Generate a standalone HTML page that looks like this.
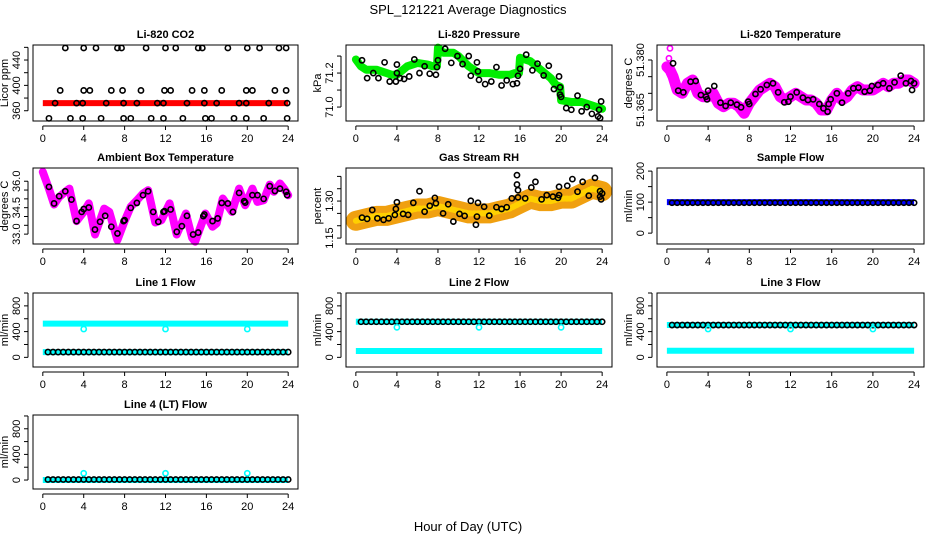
<!DOCTYPE html>
<html><head><meta charset="utf-8"><style>
html,body{margin:0;padding:0;background:#fff}
svg{display:block}
text{font-family:"Liberation Sans",Arial,sans-serif;fill:#000}
</style></head><body>
<svg id="chart" width="936" height="540" viewBox="0 0 936 540" xmlns="http://www.w3.org/2000/svg">
<text x="468" y="14" font-size="13" text-anchor="middle">SPL_121221  Average Diagnostics</text>
<text x="468" y="531" font-size="13" text-anchor="middle">Hour of Day (UTC)</text>
</svg>
<script>
// ---------- data ----------
const xTicks=[0,4,8,12,16,20,24];
const co2RedLevel=[372];
const co2Hours=[2.2,4,5.2,7.3,7.7,10.1,12,13,15.2,15.6,18.1,20,21.2,23.1,23.8, 1.7,4,4.6,6.7,7.8,9.6,11.9,12.5,14.6,15.8,17.5,19.9,20.5,22.7,23.8, 1.2,3.3,3.9,6.2,7.9,9.2,11.2,11.8,14.1,15.8,17,19.2,19.9,22.1,23.9, 0.6,2.7,3.9,5.7,7.9,8.6,10.6,11.8,13.7,15.9,16.5,18.7,19.9,21.6,23.9];
const co2Vals=[459,459,459,459,459,459,459,459,459,459,459,459,459,459,459, 392,392,392,392,392,392,392,392,392,392,392,392,392,392,392, 372,372,372,372,372,372,372,372,372,372,372,372,372,372,372, 348,348,348,348,348,348,348,348,348,348,348,348,348,348,348];
const presLineHours=[0,0.5,1,2,3,3.5,4,5,6,7,7.5,7.9,8,8.5,9.5,10,11,12,13,14,15,15.5,15.9,16,17,18,19,19.5,19.9,20,21,22,23,24];
const presLineVals=[71.28,71.24,71.22,71.22,71.2,71.19,71.19,71.24,71.26,71.25,71.24,71.24,71.35,71.32,71.32,71.30,71.24,71.2,71.2,71.19,71.19,71.2,71.2,71.29,71.27,71.22,71.17,71.13,71.12,71.04,71.03,71.03,71.01,70.99];
const presPtHours=[0.6,1.1,1.7,2.2,2.8,3.3,3.9,4,4,4.3,4.7,5.2,5.7,6.2,6.7,7.2,7.8,7.9,8,8.7,9.3,9.9,10.4,11,11.2,11.8,11.9,12,12.6,13.2,13.7,14.2,14.7,15.3,15.7,15.8,16,16.6,17.2,17.7,18.3,18.8,19.3,19.8,19.9,19.9,20,20.5,21,21.6,22,22.5,23,23.6,23.8,23.9,23.7];
const presPtVals=[71.275,71.17,71.2,71.17,71.263,71.15,71.15,71.25,71.2,71.17,71.165,71.18,71.28,71.2,71.24,71.196,71.19,71.235,71.275,71.343,71.26,71.3,71.253,71.3,71.184,71.263,71.21,71.16,71.135,71.15,71.235,71.127,71.157,71.135,71.14,71.184,71.225,71.308,71.216,71.255,71.186,71.243,71.106,71.18,71.116,71.073,71.06,70.994,70.984,71.067,70.975,71.0,70.96,70.945,70.935,71.033,70.984];
const tempLineHours=[0,0.3,0.6,1,1.5,2,2.5,3,3.5,4,4.5,5,5.5,6,6.5,7,7.5,8,8.5,9,9.5,10,10.5,11,11.5,12,12.5,13,13.5,14,14.5,15,15.5,16,16.5,17,17.5,18,18.5,19,19.5,20,20.5,21,21.5,22,22.5,23,23.5,24];
const tempLineVals=[51.378,51.377,51.375,51.371,51.370,51.373,51.374,51.370,51.369,51.369,51.370,51.367,51.366,51.367,51.367,51.366,51.364,51.367,51.369,51.371,51.372,51.373,51.372,51.369,51.368,51.369,51.370,51.369,51.368,51.368,51.367,51.365,51.365,51.368,51.370,51.368,51.369,51.371,51.372,51.371,51.371,51.371,51.372,51.373,51.372,51.373,51.373,51.374,51.374,51.373];
const tempPtHours=[0.6,1.1,1.6,2.3,2.8,3.3,3.8,3.9,4,4.6,5.2,5.7,6.2,6.8,7.2,7.9,8,8.6,9.1,9.7,10.3,10.8,11.4,11.8,12,12.6,13.2,13.7,14.2,14.8,15.2,15.6,15.7,15.9,16.5,17,17.6,18.1,18.6,19.2,19.7,19.9,20.5,21,21.6,22.1,22.7,23.2,23.7,23.8,24];
const tempPtVals=[51.379,51.3708,51.3703,51.3735,51.3737,51.3695,51.369,51.3682,51.3708,51.3722,51.3672,51.3662,51.3672,51.3666,51.3658,51.3675,51.3668,51.3698,51.3712,51.3725,51.373,51.3703,51.3673,51.3675,51.369,51.3703,51.3687,51.368,51.3682,51.3668,51.3655,51.3645,51.3668,51.3682,51.37,51.3672,51.37,51.3715,51.3717,51.3705,51.3708,51.3722,51.3725,51.373,51.3715,51.3733,51.3753,51.373,51.3737,51.371,51.373];
const ambLineHours=[0,0.6,1.1,1.6,2.2,2.6,3.3,4,4.5,5.1,6,6.5,7.3,8,8.6,9.2,9.8,10.3,11,11.6,12.4,13.1,14,14.6,14.9,15.9,16.6,17,17.6,18.5,19.2,19.8,20.5,21,21.6,22.2,22.6,23.2,23.6,24];
const ambLineVals=[36.53,35.58,34.68,35.11,35.4,35.58,33.74,34.26,34.74,32.98,34.45,34.26,32.66,33.74,34.55,34.92,35.3,35.49,33.66,33.79,34.74,32.98,34.17,32.79,32.57,34.17,33.42,33.6,35.02,34.26,35.58,34.64,35.58,34.83,34.92,35.81,35.4,35.87,35.58,35.21];
const ambPtHours=[0.6,1.1,1.6,2.2,2.8,3.3,3.8,4,4.5,5.1,5.6,6.1,6.7,7.3,7.9,8,8.6,9.2,9.8,10.3,10.8,11.3,11.8,11.9,12.5,13.1,13.6,14.1,14.7,15.2,15.7,15.8,16.6,17.1,17.5,18.1,18.6,19.2,19.7,19.8,20.5,21,21.6,22.2,22.7,23.2,23.8,23.9];
const ambPtVals=[35.68,34.74,35.15,35.43,34.96,33.74,34.26,34.42,34.51,33.26,33.7,34.04,33.42,33.04,33.74,33.79,34.49,34.77,35.21,35.43,34.26,33.7,34.26,34.3,34.4,33.13,33.45,34.04,32.98,33.09,34.02,34.11,33.74,33.89,34.77,34.74,34.26,35.34,34.87,34.79,35.21,35.21,35.0,35.72,35.45,35.58,35.4,35.21];
const rhBandHours=[0,1,2,3,4,5,6,7,8,9,10,11,12,13,14,15,16,17,18,19,20,21,22,23,24];
const rhBandVals=[1.22,1.23,1.24,1.24,1.25,1.26,1.27,1.27,1.28,1.27,1.26,1.25,1.25,1.25,1.26,1.27,1.29,1.31,1.30,1.30,1.31,1.31,1.33,1.35,1.34];
const rhPtHours=[0.6,1.1,1.6,2.1,2.7,3.2,3.8,3.9,4,4.6,5.1,5.6,6.2,6.7,7.2,7.7,7.8,8.5,9,9.5,10.1,10.6,11.2,11.7,11.8,11.9,12.5,13,13.7,14.2,14.7,15.2,15.7,15.7,15.8,15.8,16.5,17.1,17.5,18.1,18.6,19.2,19.7,19.8,19.8,20.6,21.1,21.6,22.1,22.7,23.3,23.8,23.8,23.9,24];
const rhPtVals=[1.233,1.228,1.264,1.23,1.224,1.23,1.244,1.268,1.295,1.248,1.244,1.293,1.34,1.257,1.281,1.313,1.291,1.25,1.287,1.217,1.248,1.24,1.301,1.204,1.237,1.293,1.277,1.241,1.275,1.268,1.275,1.311,1.405,1.367,1.344,1.315,1.311,1.355,1.378,1.307,1.324,1.318,1.313,1.324,1.358,1.362,1.389,1.338,1.378,1.322,1.394,1.34,1.318,1.307,1.331];
const sampleLevels=[100,98];          // blue, black
const line1Levels=[525,82];           // cyan, black
const line2Levels=[98,553];           // cyan(low), black
const line3Levels=[103,502];
const line4Levels=[0,8];
const outlierHours=[4,12,20];
const line1Outliers=[440,440,440];
const line2Outliers=[466,466,466];
const line3Outliers=[440,440,440];
const line4Outliers=[105,105,105];

// ---------- drawing ----------
const svg=document.getElementById('chart');
const NS='http://www.w3.org/2000/svg';
function mk(tag,attrs,parent){const e=document.createElementNS(NS,tag);for(const k in attrs)e.setAttribute(k,attrs[k]);(parent||svg).appendChild(e);return e;}
const cols=[[33,298],[346,612],[657,924]];
const rows=[[45,121],[168,244],[293,367],[415,489]];

function panel(id,c,r,ylim,yTicks,yLabels,title,ylab){
  const [x0,x1]=cols[c],[y0,y1]=rows[r];
  const g=mk('g',{});
  
  
  const sx=v=>x0+(v+0.96)/25.92*(x1-x0);
  const sy=v=>y1-(v-ylim[0])/(ylim[1]-ylim[0])*(y1-y0);
  const plot=mk('g',{},g);
  
  
  const box=mk('rect',{x:x0,y:y0,width:x1-x0,height:y1-y0,fill:'none',stroke:'#000','stroke-width':1},g);
  
  
  const t=mk('text',{x:(x0+x1)/2,y:y0-7,'font-size':11,'font-weight':'bold','text-anchor':'middle'},g);
  t.textContent=title;
  
  
  const xa=mk('g',{},g);
  
  
  mk('line',{x1:sx(0),x2:sx(24),y1:y1+5,y2:y1+5,stroke:'#000'},xa);
  xTicks.forEach(v=>{mk('line',{x1:sx(v),x2:sx(v),y1:y1+5,y2:y1+9,stroke:'#000'},xa);
    const l=mk('text',{x:sx(v),y:y1+21,'font-size':11,'text-anchor':'middle'},xa);l.textContent=v;
    
    });
  const ya=mk('g',{},g);
  
  
  const ax=x0-5;
  mk('line',{x1:ax,x2:ax,y1:sy(yTicks[0]),y2:sy(yTicks[yTicks.length-1]),stroke:'#000'},ya);
  yTicks.forEach(v=>mk('line',{x1:ax-4,x2:ax,y1:sy(v),y2:sy(v),stroke:'#000'},ya));
  yLabels.forEach(v=>{const yy=sy(parseFloat(v));const l=mk('text',{x:x0-13,y:yy,'font-size':11,'text-anchor':'middle',transform:`rotate(-90 ${x0-13} ${yy})`},ya);l.textContent=v;
    
    });
  const ym=(y0+y1)/2;
  const yl=mk('text',{x:x0-25,y:ym,'font-size':11,'text-anchor':'middle',transform:`rotate(-90 ${x0-25} ${ym})`},g);
  yl.textContent=ylab;
  
  
  return {sx,sy,plot,x0,x1,y0,y1};
}
function band(p,hs,vs,color,w,name){
  const d=hs.map((h,i)=>(i?'L':'M')+p.sx(h).toFixed(1)+' '+p.sy(vs[i]).toFixed(1)).join(' ');
  const e=mk('path',{d,fill:'none',stroke:color,'stroke-width':w,'stroke-linejoin':'round','stroke-linecap':'round'},p.plot);
  
  
  return e;
}
function pts(p,hs,vs,color,name,r){
  hs.forEach((h,i)=>{const e=mk('circle',{cx:p.sx(h),cy:p.sy(vs[i]),r:r||2.6,fill:'none',stroke:color,'stroke-width':1.6},p.plot);
    
    });
}
function level(p,v,color,w,name,from){
  const e=mk('line',{x1:p.sx(from||0),x2:p.sx(24),y1:p.sy(v),y2:p.sy(v),stroke:color,'stroke-width':w},p.plot);
  
  
}
function levelPts(p,v,name){
  for(let h=0.5;h<=24;h+=0.5){const e=mk('circle',{cx:p.sx(h),cy:p.sy(v),r:2.6,fill:'none',stroke:'#000','stroke-width':1.6},p.plot);
    
    }
}

// CO2
let p=panel('co2',0,0,[343.8,463.7],[360,380,400,420,440,460],['360','400','440'],'Li-820 CO2','Licor ppm');
level(p,co2RedLevel[0],'#ff0000',6,'co2-avg-line');
pts(p,co2Hours,co2Vals,'#000','co2-point');
// Pressure
p=panel('pressure',1,0,[70.918,71.365],[71.0,71.1,71.2,71.3],['71.0','71.2'],'Li-820 Pressure','kPa');
band(p,presLineHours,presLineVals,'#00ee00',8,'pressure-line');
pts(p,presPtHours,presPtVals,'#000','pressure-point');
// Temperature
p=panel('temperature',2,0,[51.3617,51.3845],[51.365,51.370,51.375,51.380],['51.365','51.380'],'Li-820 Temperature','degrees C');
band(p,tempLineHours,tempLineVals,'#ff00ff',11,'temperature-line');
pts(p,[0.3,0.2],[51.3835,51.3805],'#ff00ff','temperature-outlier');
pts(p,tempPtHours,tempPtVals,'#000','temperature-point');
// Ambient
p=panel('ambient',0,1,[32.44,36.75],[33.0,33.5,34.0,34.5,35.0,35.5,36.0],['33.0','34.5','36.0'],'Ambient Box Temperature','degrees C');
band(p,ambLineHours,ambLineVals,'#ff00ff',8,'ambient-line');
pts(p,ambPtHours,ambPtVals,'#000','ambient-point');
// RH
p=panel('rh',1,1,[1.126,1.434],[1.15,1.20,1.25,1.30,1.35,1.40],['1.15','1.30'],'Gas Stream RH','percent');
band(p,rhBandHours,rhBandVals,'#f0a010',20,'rh-band');
band(p,rhBandHours,rhBandVals,'#ffd000',6,'rh-band-core').setAttribute('stroke-dasharray','2 2');
pts(p,rhPtHours,rhPtVals,'#000','rh-point');
// Sample flow
p=panel('sample-flow',2,1,[-35,210],[0,50,100,150,200],['0','100','200'],'Sample Flow','ml/min');
level(p,sampleLevels[0],'#0000ff',6,'sample-flow-line');
levelPts(p,sampleLevels[1],'sample-flow-point');
// Line 1
p=panel('line1',0,2,[-150,1000],[0,200,400,600,800,1000],['0','400','800'],'Line 1 Flow','ml/min');
level(p,line1Levels[0],'#00ffff',6,'line1-cyan-line');
level(p,line1Levels[1],'#00ffff',6,'line1-cyan-low');
levelPts(p,line1Levels[1],'line1-point');
pts(p,outlierHours,line1Outliers,'#00ffff','line1-outlier');
// Line 2
p=panel('line2',1,2,[-150,1000],[0,200,400,600,800,1000],['0','400','800'],'Line 2 Flow','ml/min');
level(p,line2Levels[0],'#00ffff',6,'line2-cyan-line');
level(p,line2Levels[1],'#00ffff',6,'line2-cyan-high');
levelPts(p,line2Levels[1],'line2-point');
pts(p,outlierHours,line2Outliers,'#00ffff','line2-outlier');
// Line 3
p=panel('line3',2,2,[-150,1000],[0,200,400,600,800,1000],['0','400','800'],'Line 3 Flow','ml/min');
level(p,line3Levels[0],'#00ffff',6,'line3-cyan-line');
level(p,line3Levels[1],'#00ffff',6,'line3-cyan-high');
levelPts(p,line3Levels[1],'line3-point');
pts(p,outlierHours,line3Outliers,'#00ffff','line3-outlier');
// Line 4
p=panel('line4',0,3,[-140,1015],[0,200,400,600,800,1000],['0','400','800'],'Line 4 (LT) Flow','ml/min');
level(p,line4Levels[0],'#00ffff',6,'line4-cyan-line');
levelPts(p,line4Levels[1],'line4-point');
pts(p,outlierHours,line4Outliers,'#00ffff','line4-outlier');
</script>
</body></html>
